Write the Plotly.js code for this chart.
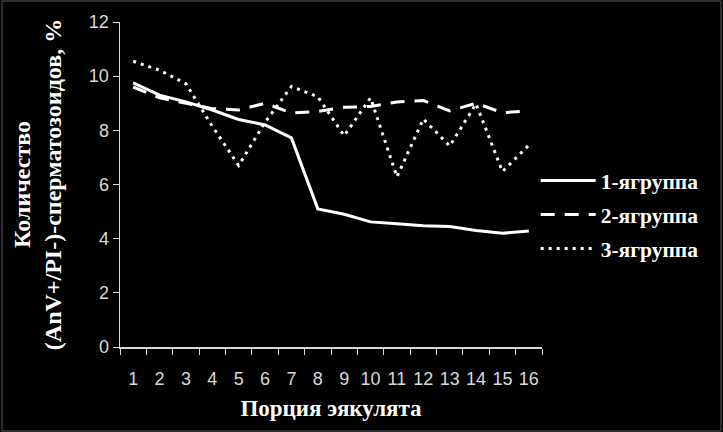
<!DOCTYPE html>
<html>
<head>
<meta charset="utf-8">
<script src="https://cdn.plot.ly/plotly-3.0.1.min.js"></script>
<style>
html,body{margin:0;padding:0;background:#000;}
#chart{width:723px;height:432px;}
</style>
</head>
<body>
<div id="chart"></div>
<script>
var categories = ['1','2','3','4','5','6','7','8','9','10','11','12','13','14','15','16'];
var group1 = [9.75, 9.3, 9.05, 8.75, 8.4, 8.2, 7.72, 5.1, 4.9, 4.62, 4.55, 4.48, 4.45, 4.3, 4.2, 4.28];
var group2 = [9.6, 9.2, 9.0, 8.8, 8.75, 9.0, 8.64, 8.7, 8.85, 8.88, 9.05, 9.1, 8.72, 9.0, 8.65, 8.72];
var group3 = [10.55, 10.22, 9.72, 8.15, 6.7, 8.3, 9.62, 9.24, 7.8, 9.2, 6.28, 8.42, 7.42, 8.98, 6.48, 7.45];
var seriesNames = ['1-ягруппа', '2-ягруппа', '3-ягруппа'];
var yTitle = 'Количество<br>(AnV+/PI-)-сперматозоидов, %';
var xTitle = 'Порция эякулята';

var serif = '"Liberation Serif", "Times New Roman", serif';
var sans = '"Liberation Sans", Arial, sans-serif';

var traces = [
  {x: categories, y: group1, name: seriesNames[0], legendgroup: 'g1', mode: 'lines', type: 'scatter',
   line: {color: '#ffffff', width: 3, dash: 'solid'}},
  {x: categories, y: group2, name: seriesNames[1], legendgroup: 'g2', mode: 'lines', type: 'scatter',
   line: {color: '#ffffff', width: 3, dash: '14px,10px'}},
  {x: categories, y: group3, name: seriesNames[2], legendgroup: 'g3', mode: 'lines', type: 'scatter',
   line: {color: '#ffffff', width: 3, dash: '3px,5px'}}
];

var layout = {
  width: 723, height: 432,
  paper_bgcolor: '#000000', plot_bgcolor: '#000000',
  margin: {l: 120, r: 181, t: 22, b: 85, pad: 0},
  showlegend: true,
  legend: {
    x: 0.985, xanchor: 'left', y: 0.575, yanchor: 'top',
    bgcolor: 'rgba(0,0,0,0)', borderwidth: 0,
    font: {family: serif, size: 21.5, color: '#ffffff', weight: 'bold'},
    traceorder: 'grouped', tracegroupgap: 3, itemwidth: 55
  },
  xaxis: {
    type: 'category', range: [-0.5, 15.5], tickson: 'boundaries', ticks: 'outside', ticklen: 6, tickcolor: '#d9d9d9', tickwidth: 1,
    showline: true, linecolor: '#d9d9d9', linewidth: 1.5, showgrid: false, zeroline: false,
    tickangle: 0,
    tickfont: {family: sans, size: 18, color: '#d9d9d9'}, ticklabelstandoff: 15,
    title: {text: xTitle, font: {family: serif, size: 23, color: '#ffffff', weight: 'bold'}, standoff: 12},
    fixedrange: true
  },
  yaxis: {
    range: [0, 12], dtick: 2, ticks: 'outside', ticklen: 6, tickcolor: '#d9d9d9', tickwidth: 1,
    showline: true, linecolor: '#d9d9d9', linewidth: 1.5, showgrid: false, zeroline: false,
    tickfont: {family: sans, size: 18, color: '#d9d9d9'},
    title: {text: yTitle, font: {family: serif, size: 24, color: '#ffffff', weight: 'bold'}, standoff: 20},
    fixedrange: true
  },
  shapes: [{type: 'rect', xref: 'paper', yref: 'paper',
    x0: -118/422, x1: 601/422, y0: -84/325, y1: 346/325,
    line: {color: '#5a5a5a', width: 1}, fillcolor: 'rgba(0,0,0,0)', layer: 'below'}]
};

Plotly.newPlot('chart', traces, layout, {displayModeBar: false, staticPlot: true});
</script>
</body>
</html>
